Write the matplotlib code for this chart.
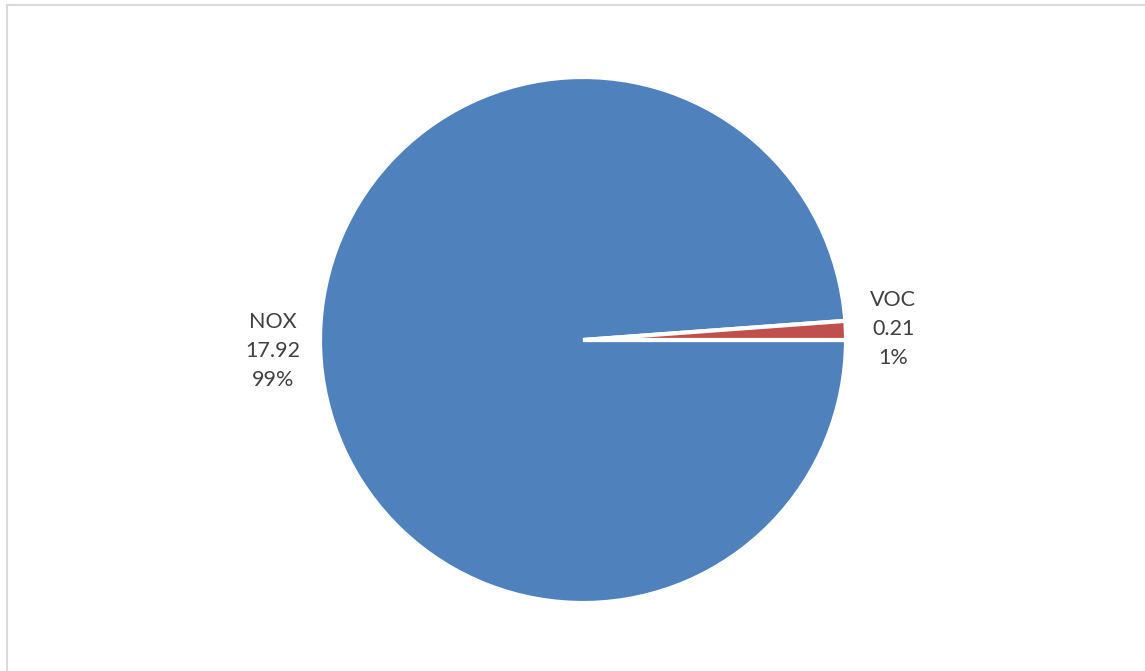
import matplotlib
matplotlib.use("Agg")
import matplotlib.pyplot as plt
from matplotlib.lines import Line2D

# emissions share
categories = ["NOX", "VOC"]
values = [17.92, 0.21]
colors = ["#4F81BD", "#C0504D"]

W, H = 1145, 671
fig = plt.figure(figsize=(W / 100, H / 100), dpi=100)
ax = fig.add_axes([0, 0, 1, 1])

total = sum(values)
labels = [f"{c}\n{v:.2f}\n{v / total * 100:.0f}%" for c, v in zip(categories, values)]

# centre (583, 340) px, radius 263 px
cx, cy, r = 583, 340, 263
wedges, texts = ax.pie(values, colors=colors, labels=labels, startangle=0,
                       counterclock=False, labeldistance=1.18,
                       wedgeprops=dict(edgecolor="white", linewidth=3),
                       textprops=dict(fontsize=15.5, color="#404040", family="Lato",
                                      linespacing=1.55))
for t in texts:
    t.set_ha("center")
    t.set_va("center")

ax.set_xlim(-cx / r, (W - cx) / r)
ax.set_ylim((cy - H) / r, cy / r)
ax.set_aspect("auto")
ax.axis("off")

# chart area border
x0 = 6.5 / W
y0 = 1 - 4.5 / H
fig.add_artist(Line2D([x0, x0], [0, y0], transform=fig.transFigure, color="#d9d9d9", lw=1.5))
fig.add_artist(Line2D([x0, 1], [y0, y0], transform=fig.transFigure, color="#d9d9d9", lw=1.5))

fig.savefig("out.png", dpi=100)
